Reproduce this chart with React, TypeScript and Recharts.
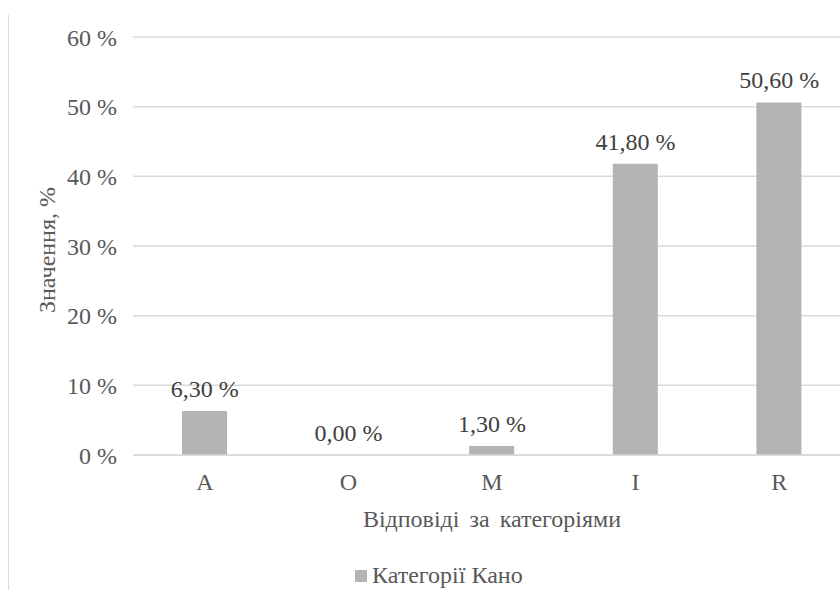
import React from 'react';
import { ComposedChart, Bar, Line, XAxis, YAxis, CartesianGrid, LabelList, Legend, Label } from 'recharts';

const categories = ['A', 'O', 'M', 'I', 'R'];
const values = [6.3, 0.0, 1.3, 41.8, 50.6];
const yTicks = [0, 10, 20, 30, 40, 50, 60];
const seriesName = 'Категорії Кано';
const xTitle = 'Відповіді за категоріями';
const yTitle = 'Значення, %';

const data = categories.map((c, i) => ({ cat: c, value: values[i] }));

const FONT = '"Liberation Serif", "Times New Roman", serif';
const FS = 24;

const fmtPct = (v: number) => `${v.toFixed(2).replace('.', ',')} %`;

const YTitle = (props: any) => {
  const vb = props.viewBox || { x: 0, y: 0, width: 0, height: 0 };
  const cx = 55;
  const cy = vb.y + vb.height / 2 + 4;
  return (
    <text x={cx} y={cy} transform={`rotate(-90, ${cx}, ${cy})`} textAnchor="middle" fill="#595959" fontFamily={FONT} fontSize={FS}>
      {yTitle}
    </text>
  );
};

const XTitle = (props: any) => {
  const vb = props.viewBox || { x: 0, y: 0, width: 0, height: 0 };
  const cx = vb.x + vb.width / 2;
  return (
    <text x={cx} y={vb.y + 72} textAnchor="middle" fill="#595959" fontFamily={FONT} fontSize={FS} wordSpacing={4}>
      {xTitle}
    </text>
  );
};

const ValueLabel = (props: any) => {
  const vb = props.viewBox || {};
  const x = (vb.x ?? props.x) + (vb.width ?? 0) / 2;
  const y = vb.y ?? props.y;
  return (
    <text x={x} y={y - 14} textAnchor="middle" fill="#404040" fontFamily={FONT} fontSize={FS}>
      {fmtPct(Number(props.value))}
    </text>
  );
};

const LegendContent = (props: any) => {
  const items = (props.payload || []).filter((p: any) => p.type !== 'none');
  const p = items[0];
  return (
    <div style={{ display: 'flex', alignItems: 'center', fontFamily: FONT, fontSize: FS, color: '#595959', whiteSpace: 'nowrap' }}>
      <span style={{ display: 'inline-block', width: 12, height: 12, background: p ? p.color : '#b3b3b3', marginRight: 5 }} />
      <span>{p ? p.value : seriesName}</span>
    </div>
  );
};

export default function App() {
  return (
    <div style={{ position: 'absolute', left: 0, top: 0, width: 840, height: 590, overflow: 'hidden', background: '#fff' }}>
      <div style={{ position: 'absolute', left: 8, top: 15, width: 1, height: 575, background: '#d9d9d9' }} />
      <ComposedChart width={860} height={590} data={data} margin={{ top: 37, right: 9, bottom: 0, left: 0 }} barCategoryGap={0}>
        <CartesianGrid vertical={false} stroke="#d9d9d9" strokeWidth={1.5} />
        <XAxis
          dataKey="cat"
          height={135}
          axisLine={{ stroke: '#d9d9d9', strokeWidth: 1.5 }}
          tickLine={false}
          tickMargin={12}
          tick={{ fill: '#595959', fontFamily: FONT, fontSize: FS }}
        >
          <Label content={<XTitle />} />
        </XAxis>
        <YAxis
          width={133}
          domain={[0, 60]}
          ticks={yTicks}
          interval={0}
          axisLine={false}
          tickLine={false}
          tickMargin={10}
          tickFormatter={(v: number) => `${v} %`}
          tick={{ fill: '#595959', fontFamily: FONT, fontSize: FS }}
        >
          <Label content={<YTitle />} />
        </YAxis>
        <Legend
          layout="horizontal"
          verticalAlign="middle"
          align="center"
          content={<LegendContent />}
          wrapperStyle={{ top: 562, left: 355, width: 'auto' }}
        />
        <Bar dataKey="value" name={seriesName} fill="#b3b3b3" barSize={45} isAnimationActive={false} />
        <Line dataKey="value" stroke="none" dot={false} activeDot={false} legendType="none" isAnimationActive={false}>
          <LabelList dataKey="value" content={<ValueLabel />} />
        </Line>
      </ComposedChart>
    </div>
  );
}
